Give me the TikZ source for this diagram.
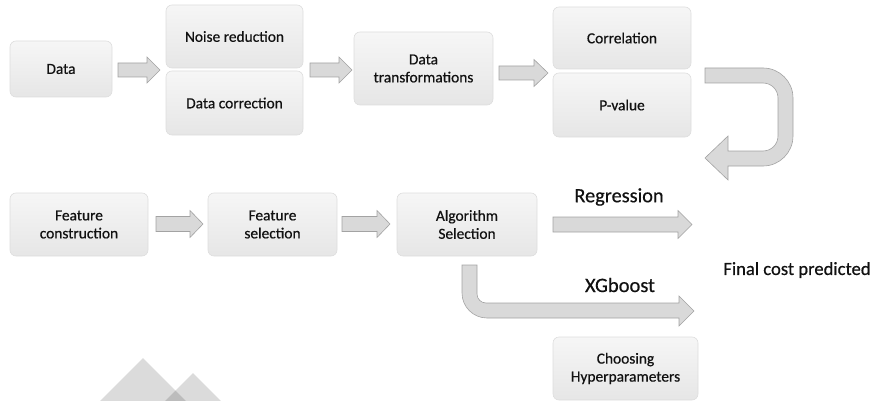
\documentclass[tikz,border=0pt]{standalone}
\usepackage{fontspec}
\setmainfont{Carlito}[FakeBold=0.5]
\definecolor{boxtop}{HTML}{F6F6F6}
\definecolor{boxbot}{HTML}{E6E6E6}
\definecolor{boxline}{HTML}{DDDDDD}
\definecolor{arrfill}{HTML}{D9D9D9}
\definecolor{arrline}{HTML}{A3A3A3}
\definecolor{txt}{HTML}{111111}
\tikzset{
  box/.style={rounded corners=6pt, draw=boxline, line width=0.6pt, top color=boxtop, bottom color=boxbot,
    align=center, inner sep=0pt, text=txt, font=\fontsize{15.4}{18}\selectfont},
  blockarr/.style={fill=arrfill, draw=arrline, line width=0.6pt, line join=miter},
  lbl/.style={text=txt, inner sep=0pt},
  tri/.style={fill=black, fill opacity=0.14, draw=none}
}
% \harr{x1}{x2}{yc}{half shaft}{half head}{head length}
\newcommand{\harr}[6]{%
  \draw[blockarr] ({#1},{#3-#4}) -- ({#2-#6},{#3-#4}) -- ({#2-#6},{#3-#5}) -- ({#2},{#3})
    -- ({#2-#6},{#3+#5}) -- ({#2-#6},{#3+#4}) -- ({#1},{#3+#4}) -- cycle;}
\begin{document}
\begin{tikzpicture}[x=1pt,y=-1pt]
\useasboundingbox (0,0) rectangle (880,401);
% background triangles
\fill[tri] (100,401) -- (143,358) -- (186,401) -- cycle;
\fill[tri] (165,401) -- (193,373) -- (221,401) -- cycle;
% boxes row 1
\node[box, minimum width=102pt, minimum height=56pt] (data) at (61,69) {Data};
\node[box, minimum width=137pt, minimum height=63pt] (noise) at (234.5,36.5) {Noise reduction};
\node[box, minimum width=137pt, minimum height=64pt] (dcorr) at (234.5,103) {Data correction};
\node[box, minimum width=139pt, minimum height=73pt] (trans) at (423.5,68.5) {Data\\transformations};
\node[box, minimum width=138pt, minimum height=62pt] (correl) at (622,38) {Correlation};
\node[box, minimum width=138pt, minimum height=64pt] (pval) at (622,105) {P-value};
% boxes row 2
\node[box, minimum width=138pt, minimum height=63pt] (fcons) at (79,224.5) {Feature\\construction};
\node[box, minimum width=129pt, minimum height=63pt] (fsel) at (272.5,224.5) {Feature\\selection};
\node[box, minimum width=140pt, minimum height=63pt] (algo) at (467,224.5) {Algorithm\\Selection};
\node[box, minimum width=145pt, minimum height=63pt] (hyper) at (625.5,368.5) {Choosing\\Hyperparameters};
% labels
\node[lbl, font=\fontsize{20.3}{24}\selectfont] (reg) at (619,197) {Regression};
\node[lbl, font=\fontsize{20.5}{24}\selectfont] (xgb) at (620,285) {XGboost};
\node[lbl, font=\fontsize{18.6}{22}\selectfont] (final) at (797,270) {Final cost predicted};
% straight block arrows
\harr{118}{160}{70}{7}{13}{13}
\harr{310}{352}{70}{7}{13}{13}
\harr{499}{548}{73}{7}{13.5}{14}
\harr{156}{203}{224}{7.5}{13.5}{13}
\harr{342}{390}{224}{7.5}{13.5}{13}
\harr{553}{692}{224.5}{7.5}{14}{14}
% U-turn arrow
\draw[blockarr] (705,68) [rounded corners=30pt] -- (793,68) -- (793,166) [sharp corners] -- (728,166)
  -- (728,180) -- (705,158) -- (728,136) -- (728,151) [rounded corners=15pt] -- (778,151) -- (778,83)
  [sharp corners] -- (705,83) -- cycle;
% XGboost arrow
\draw[blockarr] (462,265) [rounded corners=25pt] -- (462,318) [sharp corners] -- (679,318) -- (679,326)
  -- (694,311) -- (679,296) -- (679,303) [rounded corners=9pt] -- (477,303) [sharp corners] -- (477,265) -- cycle;
\end{tikzpicture}
\end{document}
